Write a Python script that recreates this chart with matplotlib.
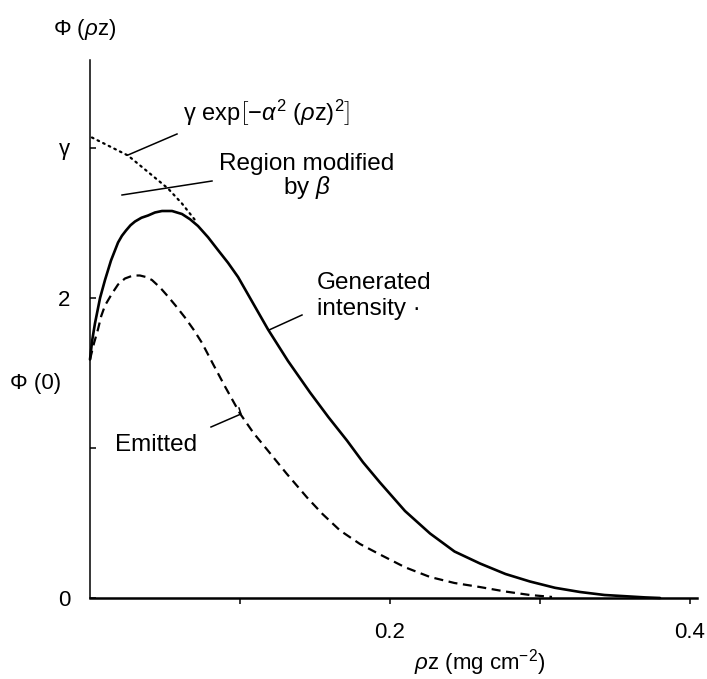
import matplotlib
matplotlib.use("Agg")
import matplotlib.pyplot as plt

plt.rcParams['font.family'] = ['Liberation Sans', 'DejaVu Sans']
plt.rcParams['mathtext.fontset'] = 'custom'
plt.rcParams['mathtext.rm'] = 'Liberation Sans'
plt.rcParams['mathtext.it'] = 'Liberation Sans:italic'
plt.rcParams['mathtext.bf'] = 'Liberation Sans:bold'
plt.rcParams['lines.scale_dashes'] = False

# phi(rho z) depth distribution, rho z in mg cm^-2
gen_x = [0.0, 0.0015, 0.0033, 0.0067, 0.010, 0.014, 0.0187, 0.0213, 0.024, 0.027,
         0.030, 0.0343, 0.0387, 0.0433, 0.048, 0.0547, 0.0613, 0.0667, 0.072,
         0.0787, 0.0853, 0.092, 0.0987, 0.1087, 0.1187, 0.132, 0.1467, 0.159,
         0.1713, 0.182, 0.1933, 0.21, 0.2267, 0.243, 0.26, 0.277, 0.2933, 0.31,
         0.3267, 0.343, 0.36, 0.37, 0.38]
gen_y = [1.59, 1.72, 1.83, 2.00, 2.12, 2.25, 2.37, 2.415, 2.45, 2.485,
         2.51, 2.535, 2.55, 2.57, 2.58, 2.58, 2.56, 2.525, 2.48,
         2.405, 2.32, 2.235, 2.14, 1.965, 1.79, 1.58, 1.37, 1.205,
         1.05, 0.905, 0.77, 0.58, 0.43, 0.31, 0.23, 0.16, 0.11, 0.068,
         0.04, 0.02, 0.01, 0.004, 0.0]

emit_x = [0.0, 0.0027, 0.0053, 0.0075, 0.010, 0.0147, 0.0187, 0.0233, 0.0287,
          0.0333, 0.0373, 0.0413, 0.0467, 0.052, 0.057, 0.0633, 0.069, 0.0747,
          0.082, 0.090, 0.100, 0.109, 0.118, 0.131, 0.1447, 0.155, 0.1667,
          0.18, 0.1933, 0.21, 0.2267, 0.243, 0.26, 0.277, 0.2933, 0.308]
emit_y = [1.59, 1.70, 1.79, 1.88, 1.95, 2.03, 2.09, 2.13, 2.15,
          2.15, 2.14, 2.12, 2.07, 2.01, 1.95, 1.87, 1.79, 1.70,
          1.56, 1.41, 1.23, 1.10, 0.99, 0.83, 0.67, 0.56, 0.45,
          0.36, 0.29, 0.205, 0.14, 0.10, 0.073, 0.043, 0.02, 0.007]

# gaussian envelope gamma exp[-alpha^2 (rho z)^2]
gauss_x = [0.0013, 0.0133, 0.0253, 0.0387, 0.052, 0.0613, 0.070]
gauss_y = [3.07, 3.01, 2.95, 2.84, 2.73, 2.63, 2.52]

x_ticks = [0.1, 0.2, 0.3, 0.4]
x_tick_labels = ['', '0.2', '', '0.4']
y_ticks = [0, 1, 2, 3]
y_tick_labels = ['0', '', '2', r'$\mathrm{\gamma}$']

W, H = 707, 679
fig = plt.figure(figsize=(W / 100, H / 100), dpi=100)
x0, x1, y0, y1 = 90, 697, 598, 60
ax = fig.add_axes([x0 / W, (H - y0) / H, (x1 - x0) / W, (y0 - y1) / H])
ax.set_xlim(0, (x1 - x0) / 1500)
ax.set_ylim(0, (y0 - y1) / 150)

fs = 16      # axis text
fa = 17.5    # annotations

ax.plot(gen_x, gen_y, color='black', lw=1.9, solid_capstyle='round',
        solid_joinstyle='round', clip_on=False)
ax.plot(emit_x, emit_y, color='black', lw=1.6, dashes=(6.5, 4.0), clip_on=False)
ax.plot(gauss_x, gauss_y, color='black', lw=1.6, dashes=(1.2, 3.3),
        dash_capstyle='round', clip_on=False)

for s in ('top', 'right'):
    ax.spines[s].set_visible(False)
ax.spines['left'].set_linewidth(1.1)
ax.spines['bottom'].set_linewidth(1.8)

ax.set_xticks(x_ticks, x_tick_labels)
ax.set_yticks(y_ticks, y_tick_labels)
ax.tick_params(axis='x', direction='out', length=4.5, width=1.1, pad=13,
               labelsize=fs)
ax.tick_params(axis='y', direction='in', length=4, width=1.1, pad=14,
               labelsize=fs)

ax.set_xlabel(r'$\rho$z (mg cm$^{-2}$)', fontsize=16)
ax.xaxis.set_label_coords(0.6425, -0.092)

def px(x, y):
    return (x - x0) / 1500, (y0 - y) / 150

ax.text(*px(85, 30), r'Φ ($\rho$z)', fontsize=fs, ha='center', va='center',
        clip_on=False)
ax.text(*px(36, 384), 'Φ (0)', fontsize=fs, ha='center', va='center',
        clip_on=False)

ax.text(*px(183, 113), r'$\mathrm{\gamma\ exp}\left[-\alpha^2\ (\rho \mathrm{z})^2\right]$',
        fontsize=17, ha='left', va='center')
ax.text(*px(307, 177), 'Region modified\nby $\\beta$', fontsize=fa,
        ha='center', va='center', multialignment='center', linespacing=0.95)
ax.text(*px(317, 296), 'Generated\nintensity \u00b7', fontsize=fa,
        ha='left', va='center', linespacing=1.2)
ax.text(*px(156, 445), 'Emitted', fontsize=fa, ha='center', va='center')

# leader lines
leaders = [
    [(128, 155), (177, 134)],
    [(122, 195), (212, 181)],
    [(269, 330), (302, 315)],
    [(211, 427), (241, 414), (239, 408)],
]
for pts in leaders:
    xs, ys = zip(*[px(*p) for p in pts])
    ax.plot(xs, ys, color='black', lw=1.1, clip_on=False)

fig.savefig('out.png', dpi=100)
